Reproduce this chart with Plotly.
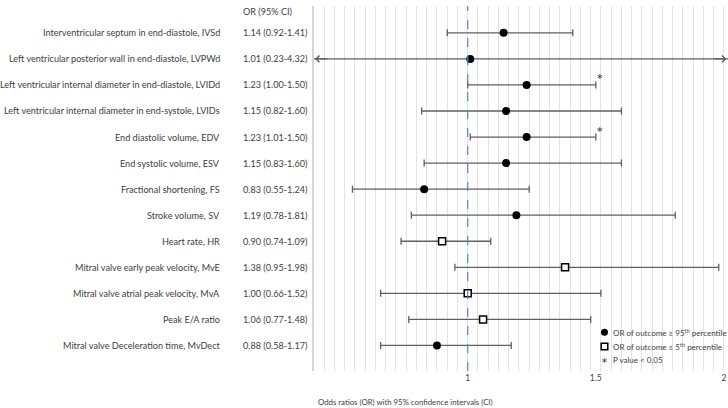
import plotly.graph_objects as go

# ---- data ----
labels = [
    "Interventricular septum in end-diastole, IVSd",
    "Left ventricular posterior wall in end-diastole, LVPWd",
    "Left ventricular internal diameter in end-diastole, LVIDd",
    "Left ventricular internal diameter in end-systole, LVIDs",
    "End diastolic volume, EDV",
    "End systolic volume, ESV",
    "Fractional shortening, FS",
    "Stroke volume, SV",
    "Heart rate, HR",
    "Mitral valve early peak velocity, MvE",
    "Mitral valve atrial peak velocity, MvA",
    "Peak E/A ratio",
    "Mitral valve Deceleration time, MvDect",
]
or_text = [
    "1.14 (0.92-1.41)", "1.01 (0.23-4.32)", "1.23 (1.00-1.50)", "1.15 (0.82-1.60)",
    "1.23 (1.01-1.50)", "1.15 (0.83-1.60)", "0.83 (0.55-1.24)", "1.19 (0.78-1.81)",
    "0.90 (0.74-1.09)", "1.38 (0.95-1.98)", "1.00 (0.66-1.52)", "1.06 (0.77-1.48)",
    "0.88 (0.58-1.17)",
]
or_vals = [1.14, 1.01, 1.23, 1.15, 1.23, 1.15, 0.83, 1.19, 0.90, 1.38, 1.00, 1.06, 0.88]
ci_lo = [0.92, 0.23, 1.00, 0.82, 1.01, 0.83, 0.55, 0.78, 0.74, 0.95, 0.66, 0.77, 0.66]
ci_hi = [1.41, 4.32, 1.50, 1.60, 1.50, 1.60, 1.24, 1.81, 1.09, 1.98, 1.52, 1.48, 1.17]
group = ["high"] * 8 + ["low"] * 4 + ["high"]
significant = [False, False, True, False, True, False, False, False, False, False, False, False, False]
x_ticks = [1, 1.5, 2]
x_tick_text = ["1", "1.5", "2"]
legend_text = [
    "OR of outcome \u2265 95<sup>th</sup> percentile",
    "OR of outcome \u2264 5<sup>th</sup> percentile",
    "P value < 0.05",
]

FONT = "Lato, Open Sans, sans-serif"
STAR_FONT = "DejaVu Sans"
TXT = "#404040"
BAR = "#5f5f5f"
FS_MAIN = 9.1
FS_LEG = 8.0
XMIN, XMAX = 0.4, 2.016
W_L, W_PLOT = 314, 414
PLOT_TOP, PLOT_BOT = 6, 371
PH = PLOT_BOT - PLOT_TOP

rows = [-i for i in range(len(labels))]

fig = go.Figure()
for g, sym, fill in [("high", "circle", "black"), ("low", "square", "white")]:
    idx = [i for i in range(len(labels)) if group[i] == g]
    fig.add_trace(go.Scatter(
        x=[or_vals[i] for i in idx],
        y=[rows[i] for i in idx],
        mode="markers",
        marker=dict(symbol=sym, size=8 if sym == "circle" else 7, color=fill,
                    line=dict(color="black", width=1.5 if sym == "square" else 0)),
        error_x=dict(type="data", symmetric=False,
                     array=[ci_hi[i] - or_vals[i] for i in idx],
                     arrayminus=[or_vals[i] - ci_lo[i] for i in idx],
                     color=BAR, thickness=1.3, width=3.5),
        showlegend=False, hoverinfo="skip",
    ))

ann = []
for i, lab in enumerate(labels):
    ann.append(dict(x=(222 - W_L) / W_PLOT, xref="paper", y=rows[i], yref="y",
                    text=lab, showarrow=False, xanchor="right", yanchor="middle",
                    font=dict(family=FONT, size=FS_MAIN, color=TXT)))
    ann.append(dict(x=(241 - W_L) / W_PLOT, xref="paper", y=rows[i], yref="y",
                    text=or_text[i], showarrow=False, xanchor="left", yanchor="middle",
                    font=dict(family=FONT, size=FS_MAIN, color=TXT)))
    if significant[i]:
        ann.append(dict(x=ci_hi[i], y=rows[i], xref="x", yref="y", text="*",
                        showarrow=False, xanchor="center", yanchor="middle",
                        xshift=4, yshift=6, font=dict(family=STAR_FONT, size=11, color="#262626")))
    if ci_lo[i] < XMIN:
        ann.append(dict(x=XMIN + 0.004, y=rows[i], xref="x", yref="y", text="", showarrow=True,
                        ax=14, ay=0, arrowhead=4, arrowsize=1, arrowwidth=1.3,
                        arrowcolor=BAR, standoff=0))
    if ci_hi[i] > XMAX:
        ann.append(dict(x=XMAX - 0.006, y=rows[i], xref="x", yref="y", text="", showarrow=True,
                        ax=-14, ay=0, arrowhead=4, arrowsize=1, arrowwidth=1.3,
                        arrowcolor=BAR, standoff=0))

ann.append(dict(x=(241 - W_L) / W_PLOT, xref="paper", y=(PLOT_BOT - 11) / PH, yref="paper",
                text="OR (95% CI)", showarrow=False, xanchor="left", yanchor="middle",
                font=dict(family=FONT, size=FS_MAIN, color=TXT)))
ann.append(dict(x=(316 - W_L) / W_PLOT, xref="paper", y=(PLOT_BOT - 402) / PH, yref="paper",
                text="Odds ratios (OR) with 95% confidence intervals (CI)", showarrow=False,
                xanchor="left", yanchor="middle", font=dict(family=FONT, size=7.8, color=TXT)))

# legend (manual)
leg_y = [332.3, 346.5, 360.3]
lx = (604.5 - W_L) / W_PLOT
shapes = []
shapes.append(dict(type="circle", xref="paper", yref="paper", xsizemode="pixel", ysizemode="pixel",
                   xanchor=lx, yanchor=(PLOT_BOT - leg_y[0]) / PH, x0=-3.5, x1=3.5, y0=-3.5, y1=3.5,
                   fillcolor="black", line=dict(color="black", width=0)))
shapes.append(dict(type="rect", xref="paper", yref="paper", xsizemode="pixel", ysizemode="pixel",
                   xanchor=lx, yanchor=(PLOT_BOT - leg_y[1]) / PH, x0=-3.3, x1=3.3, y0=-3.3, y1=3.3,
                   fillcolor="white", line=dict(color="black", width=1.5)))
ann.append(dict(x=lx, xref="paper", y=(PLOT_BOT - leg_y[2]) / PH, yref="paper", text="*",
                showarrow=False, xanchor="center", yanchor="middle", yshift=-2,
                font=dict(family=STAR_FONT, size=10, color="#262626")))
for k, t in enumerate(legend_text):
    ann.append(dict(x=(611 - W_L) / W_PLOT, xref="paper", y=(PLOT_BOT - leg_y[k]) / PH, yref="paper",
                    text=t, showarrow=False, xanchor="left", yanchor="middle",
                    font=dict(family=FONT, size=FS_LEG, color=TXT)))

shapes.append(dict(type="line", xref="x", yref="paper", x0=1, x1=1, y0=0, y1=1,
                   line=dict(color="#4f86d6", width=1.2, dash="dash"), layer="above"))

fig.update_layout(
    width=728, height=408,
    margin=dict(l=W_L, r=0, t=PLOT_TOP, b=408 - PLOT_BOT, pad=0),
    paper_bgcolor="white", plot_bgcolor="white",
    font=dict(family=FONT, size=FS_MAIN, color=TXT),
    xaxis=dict(range=[XMIN, XMAX], tickvals=x_ticks, ticktext=x_tick_text, showgrid=False,
               zeroline=False, showline=False, ticks="", tickfont=dict(size=8.5, color=TXT),
               minor=dict(tick0=XMIN, dtick=0.04, showgrid=True, gridcolor="#e3e3e3", gridwidth=1)),
    yaxis=dict(range=[-12.98, 1.03], showticklabels=False, showgrid=False, zeroline=False,
               showline=True, linecolor="#d6d6d6", linewidth=2, ticks=""),
    annotations=ann, shapes=shapes,
)

fig.write_html("out.html", config={"displayModeBar": False},
               post_script="document.body.style.margin='0';document.body.style.overflow='hidden';")
